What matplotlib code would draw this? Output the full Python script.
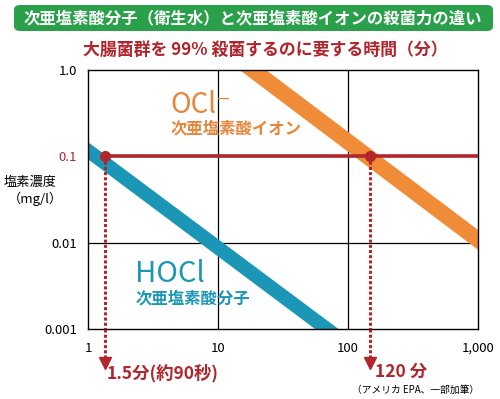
import matplotlib
matplotlib.use('Agg')
import matplotlib.pyplot as plt
from matplotlib.patches import FancyBboxPatch
import matplotlib.transforms as mtransforms

plt.rcParams['font.family'] = ['Noto Sans CJK JP', 'DejaVu Sans']

# ---- data ----
TIME_TICKS   = [1, 10, 100, 1000]
TIME_LABELS  = ['1', '10', '100', '1,000']
CONC_TICKS   = [0.001, 0.01, 0.1, 1.0]
CONC_LABELS  = ['0.001', '0.01', '0.1', '1.0']

# band edges (minutes, mg/l)
hocl_time  = [1, 100]
hocl_upper = [0.147, 0.00083]
hocl_lower = [0.093, 0.00052]

ocl_time  = [10, 1000]
ocl_upper = [2.64, 0.0141]
ocl_lower = [1.55, 0.0083]

TARGET_CONC = 0.1
hocl_kill   = 1.35   # where the 0.1 line meets the HOCl band
ocl_kill    = 148    # where the 0.1 line meets the OCl- band

TITLE    = '次亜塩素酸分子（衛生水）と次亜塩素酸イオンの殺菌力の違い'
SUBTITLE = '大腸菌群を 99% 殺菌するのに要する時間（分）'

BLUE   = '#1b96b6'
ORANGE = '#f08c38'
RED    = '#b0262c'
GREEN  = '#2aa04a'

W, H = 500, 399
fig = plt.figure(figsize=(W / 100, H / 100), dpi=100)

def fx(px):
    return px / W

def fy(py):
    return 1 - py / H

ax = fig.add_axes([fx(88), fy(329), fx(478) - fx(88), fy(70) - fy(329)])
ax.set_xscale('log')
ax.set_yscale('log')
ax.set_xlim(1, 1000)
ax.set_ylim(0.001, 1.0)

ax.minorticks_off()
ax.set_xticks(TIME_TICKS)
ax.set_xticklabels(TIME_LABELS, fontsize=9.5)
ax.set_yticks(CONC_TICKS)
ax.set_yticklabels(CONC_LABELS, fontsize=9.5)
ax.tick_params(length=0, pad=8)
ax.tick_params(axis='x', pad=9)
ax.get_yticklabels()[2].set_color(RED)

for s in ax.spines.values():
    s.set_linewidth(1.0)
    s.set_color('black')

for t in [10, 100]:
    ax.axvline(t, color='black', lw=0.9, zorder=1)
for c in [0.01, 0.1]:
    ax.axhline(c, color='black', lw=0.9, zorder=1)

ax.fill_between(hocl_time, hocl_lower, hocl_upper, color=BLUE, lw=0, zorder=2)
ax.fill_between(ocl_time, ocl_lower, ocl_upper, color=ORANGE, lw=0, zorder=2)

# 0.1 mg/l line and markers
ax.plot([hocl_kill, 1000], [TARGET_CONC, TARGET_CONC], color=RED, lw=2.6,
        zorder=4, solid_capstyle='butt')
trans = mtransforms.blended_transform_factory(ax.transData, ax.transAxes)
for t in [hocl_kill, ocl_kill]:
    ax.plot([t, t], [TARGET_CONC, 0.001], color=RED, lw=2.2,
            linestyle=(0, (1.0, 0.7)), zorder=4)
    ax.plot([t, t], [0, -0.11], color=RED, lw=2.2, linestyle=(0, (1.0, 0.7)),
            transform=trans, clip_on=False, zorder=4)
    ax.plot([t], [-0.13], marker='v', ms=8, color=RED, transform=trans,
            clip_on=False, zorder=4)
    ax.plot([t], [TARGET_CONC], marker='o', ms=7, color=RED, zorder=5)

# title banner
banner = FancyBboxPatch((fx(14), fy(31)), fx(493) - fx(14), fy(5) - fy(31),
                        boxstyle='round,pad=0,rounding_size=0.012',
                        transform=fig.transFigure, facecolor=GREEN,
                        edgecolor='none')
fig.patches.append(banner)
fig.text(fx(253), fy(18), TITLE, color='white', fontsize=11.8,
         fontweight='bold', ha='center', va='center')
fig.text(fx(265), fy(50), SUBTITLE, color=RED, fontsize=12.2,
         fontweight='bold', ha='center', va='center')

# y label
fig.text(fx(30), fy(182), '塩素濃度', fontsize=9.5, ha='center', va='center')
fig.text(fx(35), fy(199), '（mg/l）', fontsize=9.5, ha='center', va='center')

# series labels
fig.text(fx(170), fy(105), 'OCl⁻', color='#e8853a', fontsize=20,
         ha='left', va='center')
fig.text(fx(171), fy(128), '次亜塩素酸イオン', color='#e8853a', fontsize=11.8,
         fontweight='bold', ha='left', va='center')
fig.text(fx(135), fy(274), 'HOCl', color=BLUE, fontsize=21,
         ha='left', va='center')
fig.text(fx(136), fy(298), '次亜塩素酸分子', color=BLUE, fontsize=11.8,
         fontweight='bold', ha='left', va='center')

# time annotations
fig.text(fx(107), fy(373), '1.5分(約90秒)', color=RED, fontsize=12.5,
         fontweight='bold', ha='left', va='center')
fig.text(fx(375), fy(372), '120 分', color=RED, fontsize=12.5,
         fontweight='bold', ha='left', va='center')
fig.text(fx(416), fy(390), '（アメリカ EPA、一部加筆）', fontsize=7,
         ha='center', va='center')

fig.savefig('out.png', dpi=100)
